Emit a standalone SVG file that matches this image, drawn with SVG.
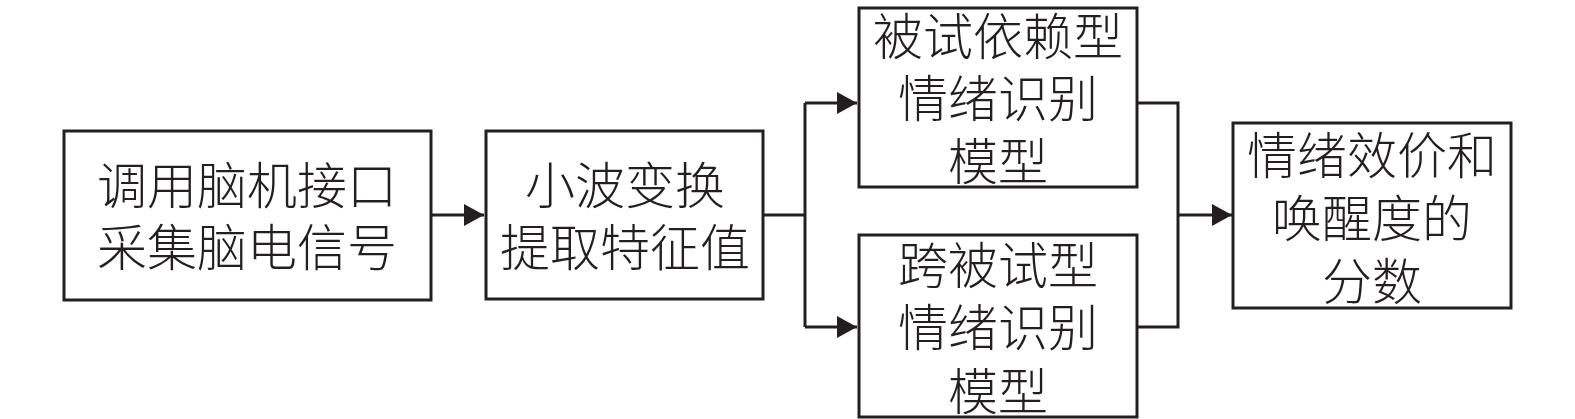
<svg xmlns="http://www.w3.org/2000/svg" width="1575" height="419" viewBox="0 0 1575 419">
<style>
.box{fill:#fff;stroke:#231f20;stroke-width:3}
.t{font-family:"Liberation Serif","Noto Sans CJK SC",serif;font-size:50px;font-weight:300;fill:#231f20;text-anchor:middle}
.c{fill:none;stroke:#231f20;stroke-width:3}
</style>
<defs>
<marker id="ah" markerUnits="userSpaceOnUse" markerWidth="22" markerHeight="24" refX="20" refY="11" orient="auto">
<path d="M0,0 L20,11 L0,22 Z" fill="#231f20"/>
</marker>
</defs>
<g id="connectors">
<path class="c" d="M431,215 H484" marker-end="url(#ah)"/>
<path class="c" d="M763,215 H805"/>
<path class="c" d="M805,103 V327"/>
<path class="c" d="M805,103 H857" marker-end="url(#ah)"/>
<path class="c" d="M805,327 H857" marker-end="url(#ah)"/>
<path class="c" d="M1137,103 H1178 V327 H1137"/>
<path class="c" d="M1178,215 H1232" marker-end="url(#ah)"/>
</g>
<g id="n1">
<rect class="box" x="64" y="131" width="367" height="169"/>
<text class="t" x="247" y="204">调用脑机接口</text>
<text class="t" x="247" y="266">采集脑电信号</text>
</g>
<g id="n2">
<rect class="box" x="486" y="131" width="277" height="168"/>
<text class="t" x="625" y="204">小波变换</text>
<text class="t" x="625" y="266">提取特征值</text>
</g>
<g id="n3">
<rect class="box" x="859" y="8" width="278" height="179"/>
<text class="t" x="998" y="55">被试依赖型</text>
<text class="t" x="998" y="117">情绪识别</text>
<text class="t" x="998" y="180">模型</text>
</g>
<g id="n4">
<rect class="box" x="859" y="235" width="278" height="182"/>
<text class="t" x="998" y="284">跨被试型</text>
<text class="t" x="998" y="346">情绪识别</text>
<text class="t" x="998" y="410">模型</text>
</g>
<g id="n5">
<rect class="box" x="1233" y="123" width="278" height="185"/>
<text class="t" x="1372" y="174">情绪效价和</text>
<text class="t" x="1372" y="237">唤醒度的</text>
<text class="t" x="1372" y="300">分数</text>
</g>
</svg>
